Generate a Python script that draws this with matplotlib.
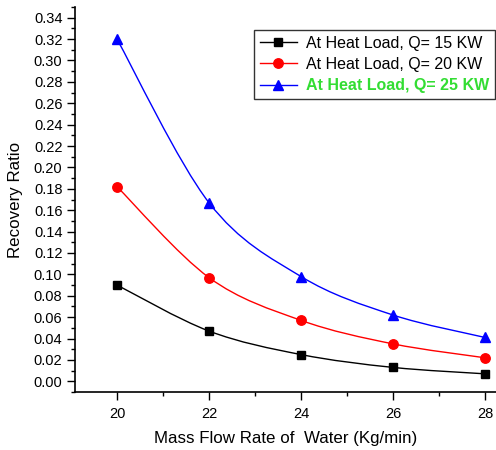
import numpy as np
import matplotlib
matplotlib.use("Agg")
import matplotlib.pyplot as plt
from matplotlib.path import Path
from matplotlib.patches import PathPatch
from matplotlib.ticker import MultipleLocator, FormatStrFormatter

plt.rcParams['font.family'] = ['Liberation Sans', 'DejaVu Sans']

flow = [20, 22, 24, 26, 28]
q15 = [0.090, 0.047, 0.025, 0.013, 0.007]
q20 = [0.182, 0.097, 0.057, 0.035, 0.022]
q25 = [0.320, 0.167, 0.098, 0.062, 0.041]
labels = ["At Heat Load, Q= 15 KW", "At Heat Load, Q= 20 KW", "At Heat Load, Q= 25 KW"]
colors = ["black", "red", "blue"]
markers = ["s", "o", "^"]
msizes = [5.8, 6.8, 7.5]

fig = plt.figure(figsize=(4.96, 4.5), dpi=100)
ax = fig.add_axes([75/496, 1-392/450, 1-75/496, (392-7)/450])

def smooth_path(x, y):
    x = np.asarray(x, float); y = np.asarray(y, float)
    verts = [(x[0], y[0])]
    codes = [Path.MOVETO]
    n = len(x)
    for i in range(n-1):
        p0 = np.array([x[max(i-1, 0)], y[max(i-1, 0)]])
        p1 = np.array([x[i], y[i]])
        p2 = np.array([x[i+1], y[i+1]])
        p3 = np.array([x[min(i+2, n-1)], y[min(i+2, n-1)]])
        c1 = p1 + (p2 - p0) / 6.0
        c2 = p2 - (p3 - p1) / 6.0
        verts += [tuple(c1), tuple(c2), tuple(p2)]
        codes += [Path.CURVE4]*3
    return Path(verts, codes)

for ys, c, m, ms, lab in zip([q15, q20, q25], colors, markers, msizes, labels):
    ax.add_patch(PathPatch(smooth_path(flow, ys), facecolor='none', edgecolor=c, lw=1.0))
    ax.plot(flow, ys, linestyle='none', marker=m, color=c, markersize=ms)
    ax.plot([], [], color=c, marker=m, markersize=ms, lw=1.0, label=lab)

ax.set_xlim(19.087, 28.24)
ax.set_ylim(-0.01, 0.35)
ax.set_xticks(flow)
ax.xaxis.set_minor_locator(MultipleLocator(1))
ax.yaxis.set_major_locator(MultipleLocator(0.02))
ax.yaxis.set_minor_locator(MultipleLocator(0.01))
ax.yaxis.set_major_formatter(FormatStrFormatter('%.2f'))
ax.tick_params(which='major', direction='out', length=6, width=1, labelsize=10.5)
ax.tick_params(which='minor', direction='out', length=3, width=1)
ax.tick_params(axis='x', pad=5)
ax.tick_params(axis='y', pad=3)
for s in ['top', 'right']:
    ax.spines[s].set_visible(False)
ax.spines['left'].set_linewidth(1.2)
ax.spines['bottom'].set_linewidth(1.2)
ax.set_xlabel("Mass Flow Rate of  Water (Kg/min)", fontsize=12.2, labelpad=7)
ax.set_ylabel("Recovery Ratio", fontsize=12.2, labelpad=8)

leg = ax.legend(loc='upper right', bbox_to_anchor=(495/496, 1-30/450), bbox_transform=fig.transFigure,
                fontsize=11.5, frameon=True, fancybox=False, edgecolor='black', handlelength=2.3,
                borderpad=0.35, labelspacing=0.4, handletextpad=0.6, borderaxespad=0)
leg.get_frame().set_linewidth(1.0)
t = leg.get_texts()[2]
t.set_color('#33dd33')
t.set_fontweight('bold')

fig.savefig("out.png", dpi=100)
